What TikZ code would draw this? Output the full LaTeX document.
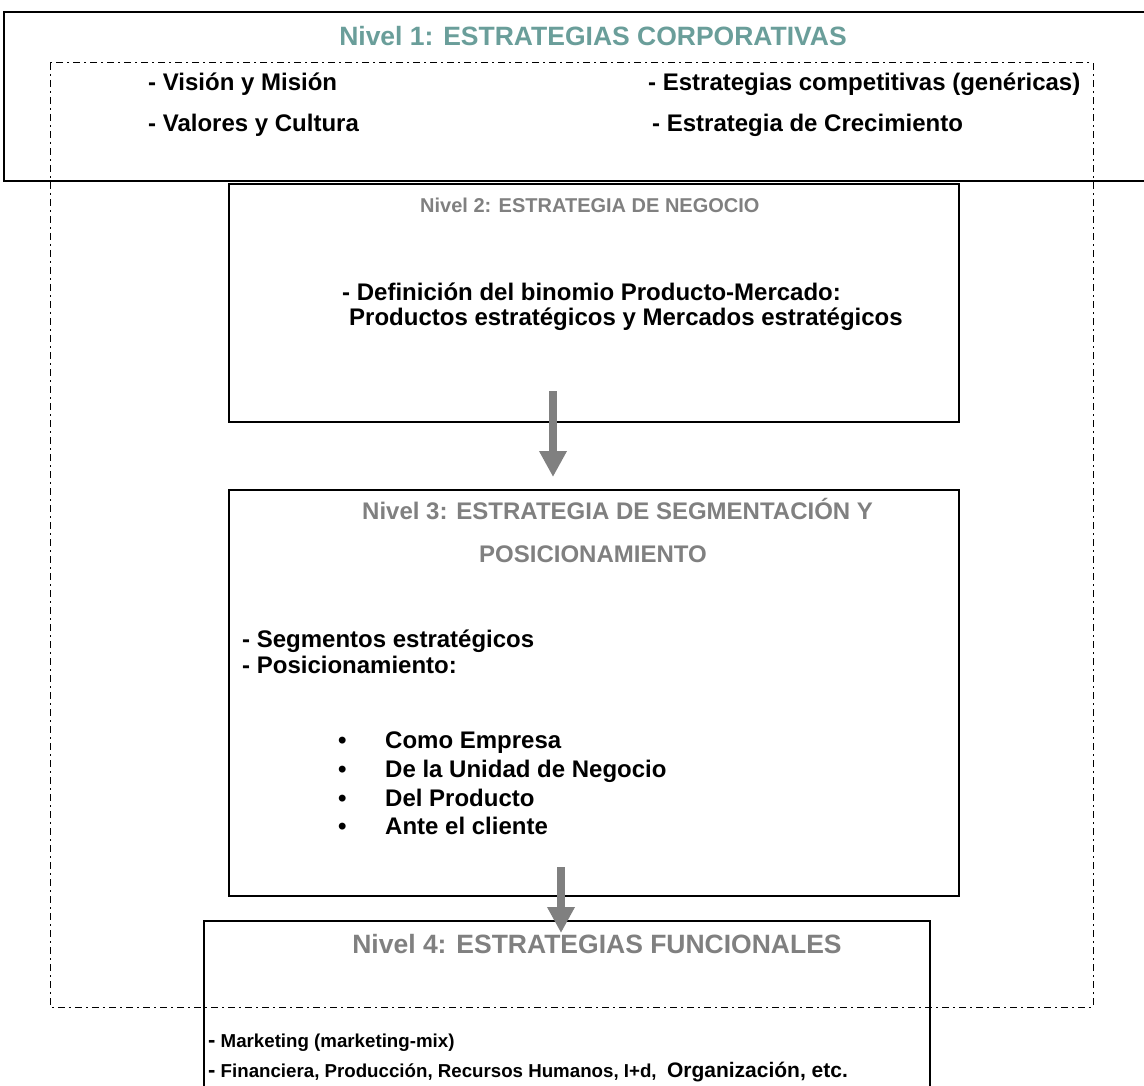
\documentclass[tikz,border=0pt]{standalone}
\usepackage{fontspec}
\setmainfont{Liberation Sans}
\usetikzlibrary{arrows.meta}
\definecolor{tealtitle}{HTML}{6A9E9A}
\definecolor{graytitle}{HTML}{808080}
\definecolor{arrowgray}{HTML}{808080}
\newcommand{\fsz}[1]{\fontsize{#1}{#1}\selectfont\bfseries}
\tikzset{
  boxline/.style={draw=black, line width=1.6pt},
  levelbox/.style={boxline, rectangle, inner sep=0pt, anchor=north west},
  dashdotline/.style={draw=black, line width=1pt, dash pattern=on 7pt off 4pt on 2pt off 4pt},
  txt/.style={inner sep=0pt, anchor=base west, text=black},
  ttl/.style={inner sep=0pt, anchor=base, font=\fsz{26.5}},
  bigarrow/.style={draw=arrowgray, line width=8pt, -{Triangle[width=26pt,length=26pt]}},
}
\begin{document}
\begin{tikzpicture}[x=1pt,y=-1pt]
\useasboundingbox (0,0) rectangle (1144,1086);
\fill[white] (0,0) rectangle (1144,1086);
% Level 1 box (runs beyond right edge)
\draw[boxline] (1144,12) -- (4,12) -- (4,181) -- (1144,181);
% dash-dot frame
\draw[dashdotline] (50,63) rectangle (1093,1007);
% Level 2 and 3 boxes
\node[levelbox, minimum width=730pt, minimum height=238pt] (n2) at (228,183) {};
\node[levelbox, minimum width=730pt, minimum height=406pt] (n3) at (228,489) {};
% Level 4 box (runs beyond bottom edge)
\draw[boxline] (204,1086) -- (204,921) -- (930,921) -- (930,1086);
% Level 1 text
\node[ttl, text=tealtitle] (t1) at (593,46) {Nivel 1: ESTRATEGIAS CORPORATIVAS};
\node[txt, font=\fsz{24}] (l1a) at (148,91) {- Visión y Misión};
\node[txt, font=\fsz{24}] (l1b) at (148,132) {- Valores y Cultura};
\node[txt, font=\fsz{24}] (l1c) at (648,91) {- Estrategias competitivas (genéricas)};
\node[txt, font=\fsz{24}] (l1d) at (652,132) {- Estrategia de Crecimiento};
% Level 2 text
\node[txt, text=graytitle, font=\fsz{20}] (t2) at (420,213) {Nivel 2: ESTRATEGIA DE NEGOCIO};
\node[txt, font=\fsz{24}] (l2a) at (342,301) {- Definición del binomio Producto-Mercado:};
\node[txt, font=\fsz{24}] (l2b) at (349,325) {Productos estratégicos y Mercados estratégicos};
% Level 3 text
\node[txt, text=graytitle, font=\fsz{24}] (t3a) at (362,519) {Nivel 3: ESTRATEGIA DE SEGMENTACIÓN Y};
\node[inner sep=0pt, anchor=base, text=graytitle, font=\fsz{24}] (t3b) at (593,562) {POSICIONAMIENTO};
\node[txt, font=\fsz{24}] (l3a) at (242,647) {- Segmentos estratégicos};
\node[txt, font=\fsz{24}] (l3b) at (242,673) {- Posicionamiento:};
\foreach \y/\t/\n in {748/Como Empresa/a, 777/De la Unidad de Negocio/b, 806/Del Producto/c, 834/Ante el cliente/d}{
  \node[txt, font=\fsz{24}] (bul\n) at (338,\y) {•};
  \node[txt, font=\fsz{24}] (it\n) at (385,\y) {\t};
}
% Level 4 text
\node[ttl, text=graytitle] (t4) at (597,953) {Nivel 4: ESTRATEGIAS FUNCIONALES};
\node[txt, font=\fsz{18.7}] (l4a) at (208,1047) {{\fsz{22}-} Marketing (marketing-mix)};
\node[txt, font=\fsz{18.7}] (l4b) at (208,1077) {{\fsz{22}-} Financiera, Producción, Recursos Humanos, I+d,\ \ {\fsz{21}Organización, etc.}};
% arrows
\coordinate (a1s) at (553,391);
\coordinate (a1e) at (553,477);
\coordinate (a2s) at (561,867);
\coordinate (a2e) at (561,933);
\draw[bigarrow] (a1s) -- (a1e);
\draw[bigarrow] (a2s) -- (a2e);
\end{tikzpicture}
\end{document}
